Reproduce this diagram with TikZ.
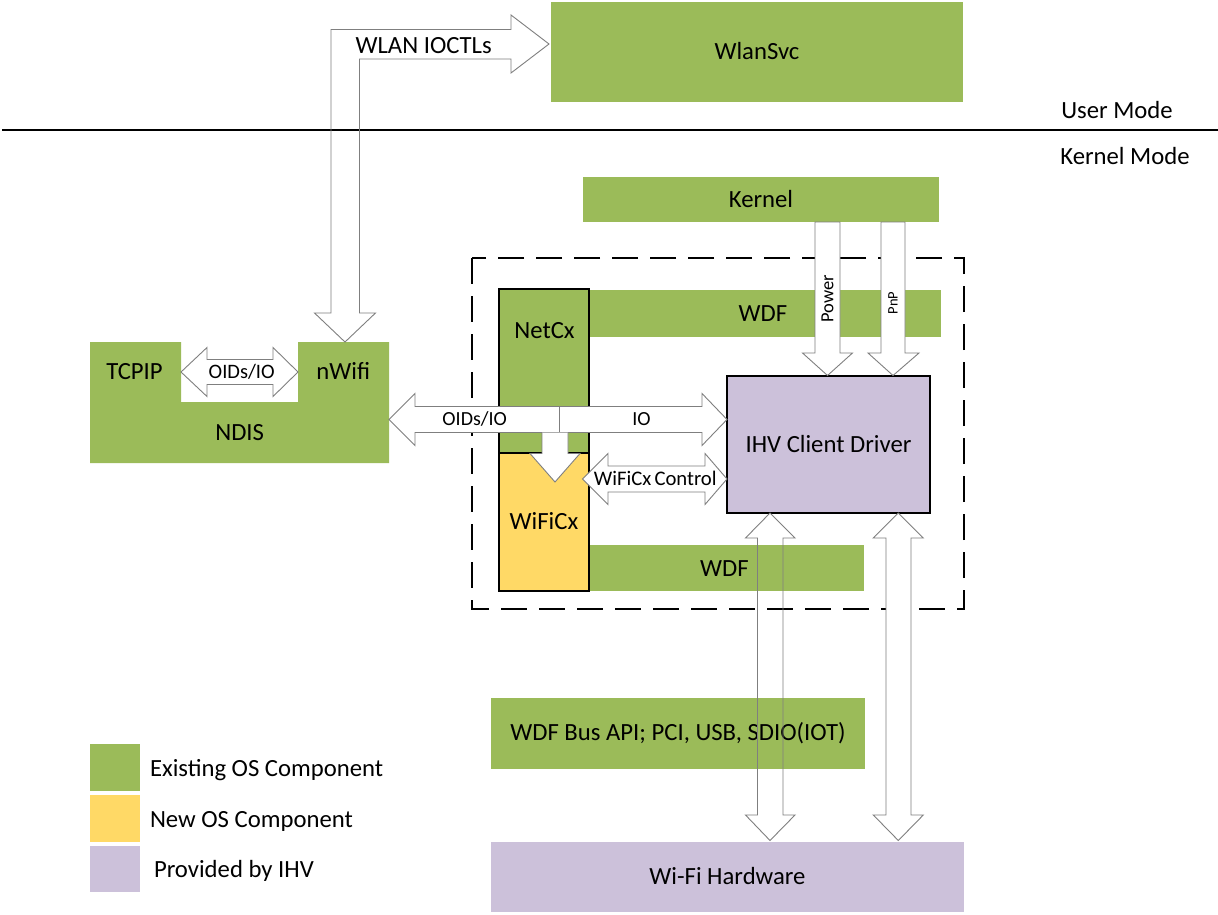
\documentclass[tikz,border=0pt]{standalone}
\usepackage{fontspec}
\setmainfont{Carlito}
\definecolor{osgreen}{HTML}{9BBB59}
\definecolor{osyellow}{HTML}{FFD966}
\definecolor{ihvpurple}{HTML}{CCC1DA}
\definecolor{arrgray}{HTML}{7F7F7F}
\begin{document}
\begin{tikzpicture}[x=1pt,y=-1pt,
  big/.style={font=\fontsize{24.7}{28}\selectfont, text height=15.9pt, text depth=0pt},
  small/.style={font=\fontsize{20}{24}\selectfont, text height=12.9pt, text depth=0pt},
  txt/.style={inner sep=0pt, outer sep=0pt},
  gbox/.style={txt, big, fill=osgreen},
  ybox/.style={txt, big, fill=osyellow, draw=black, line width=2pt},
  pbox/.style={txt, big, fill=ihvpurple},
  nbox/.style={txt, big, fill=osgreen, draw=black, line width=2pt},
  barr/.style={draw=arrgray, line width=0.9pt, line join=miter},
  barrw/.style={barr, fill=white},
  ]
\useasboundingbox (0,0) rectangle (1218,915);
\fill[white] (0,0) rectangle (1218,915);

% user / kernel separation
\coordinate (sepL) at (2,130);
\coordinate (sepR) at (1218,130);
\draw[line width=2pt] (sepL) -- (sepR);
\node[txt, big] (usermode) at (1117,110.5) {User Mode};
\node[txt, big] (kernelmode) at (1125,157) {Kernel Mode};

% green boxes
\node[gbox, minimum width=412pt, minimum height=100pt] (wlansvc) at (757,52) {WlanSvc};
\node[gbox, minimum width=356pt, minimum height=45pt] (kernel) at (761,199.5) {Kernel};
\node[gbox, minimum width=352pt, minimum height=47pt] (wdftop) at (765,313.5) {};
\node[txt, big] (wdftoplbl) at (763,314) {WDF};
\node[gbox, minimum width=275pt, minimum height=46pt] (wdfbot) at (726.5,568) {};
\node[txt, big] (wdfbotlbl) at (724.5,569) {WDF};
\node[gbox, minimum width=374pt, minimum height=71pt] (busapi) at (678,733) {WDF Bus API; PCI, USB, SDIO(IOT)};
\node[pbox, minimum width=473pt, minimum height=70pt] (hw) at (727.5,877) {Wi-Fi Hardware};

% NDIS with notch
\fill[osgreen] (90,342) -- (181,342) -- (181,402) -- (298,402) -- (298,342) -- (389,342) -- (389,463) -- (90,463) -- cycle;
\node[txt, big] (tcpip) at (134.5,372) {TCPIP};
\node[txt, big] (nwifi) at (343.3,372) {nWifi};
\node[txt, big] (ndis) at (239.7,433) {NDIS};

% NetCx / WiFiCx / IHV
\node[nbox, minimum width=90pt, minimum height=164pt] (netcx) at (544,371) {};
\node[txt, big] (netcxlbl) at (544.5,330.5) {NetCx};
\node[ybox, minimum width=90pt, minimum height=138pt] (wificx) at (544,522) {WiFiCx};
\node[pbox, draw=black, line width=2pt, minimum width=203pt, minimum height=137pt] (ihv) at (828.5,444.5) {IHV Client Driver};

% dashed frame
\draw[line width=2.8pt, dash pattern=on 26pt off 12pt] (472,258) rectangle (964,609);

% legend
\node[txt, fill=osgreen, minimum width=50pt, minimum height=47pt] (lg1) at (115,767.5) {};
\node[txt, fill=osyellow, minimum width=50pt, minimum height=47pt] (lg2) at (115,818.5) {};
\node[txt, fill=ihvpurple, minimum width=50pt, minimum height=46pt] (lg3) at (115,869) {};
\node[txt, big, anchor=west] (lt1) at (150,768.3) {Existing OS Component};
\node[txt, big, anchor=west] (lt2) at (150,820) {New OS Component};
\node[txt, big, anchor=west] (lt3) at (154,870) {Provided by IHV};

% WLAN IOCTLs elbow arrow
\draw[barr] (345,342) -- (314.5,313) -- (331,313) -- (331,29.5) -- (511,29.5) -- (511,15) -- (549,44) -- (511,73) -- (511,59) -- (359.5,59) -- (359.5,313) -- (375.5,313) -- cycle;
\node[txt, font=\fontsize{24.7}{28}\selectfont, text height=15.9pt, text depth=0pt] (ioctl) at (423.7,45.3) {WLAN IOCTLs};

% OIDs/IO inside NDIS notch
\draw[barrw] (181,372) -- (207,347.5) -- (207,359.5) -- (273,359.5) -- (273,347.5) -- (298,372) -- (273,396.5) -- (273,384.5) -- (207,384.5) -- (207,396.5) -- cycle;
\node[txt, font=\fontsize{20.5}{24}\selectfont, text height=13.2pt, text depth=0pt] (oidsn) at (241.7,372.3) {OIDs/IO};

% big OIDs/IO - IO arrow
\draw[barrw] (389,419.5) -- (415,393.5) -- (415,406.5) -- (702,406.5) -- (702,393.5) -- (727,419.5) -- (702,445.5) -- (702,432.5) -- (415,432.5) -- (415,445.5) -- cycle;
\draw[barr] (559,406.5) -- (559,432.5);
\node[txt, small] (oids) at (474.7,418.8) {OIDs/IO};
\node[txt, small] (io) at (641.5,419) {IO};

% down arrow into WiFiCx
\draw[barrw] (542,432.5) -- (542,453.5) -- (530,453.5) -- (555,482) -- (580,453.5) -- (568,453.5) -- (568,432.5);

% WiFiCx Control
\draw[barrw] (582.5,479) -- (608,453.5) -- (608,466) -- (705,466) -- (705,453.5) -- (727,479) -- (705,504.5) -- (705,492) -- (608,492) -- (608,504.5) -- cycle;
\node[txt, font=\fontsize{20.7}{24}\selectfont, text height=13.3pt, text depth=0pt] (wcc) at (655.3,478.8) {WiFiCx\hspace{-1.5pt} Control};

% Power and PnP
\draw[barrw] (815,222) -- (815,353) -- (802.5,353) -- (827.5,375.5) -- (852.5,353) -- (840,353) -- (840,222) -- cycle;
\draw[barrw] (881,222) -- (881,353) -- (868,353) -- (893,375.5) -- (919,353) -- (905,353) -- (905,222) -- cycle;
\node[txt, rotate=90, font=\fontsize{18.5}{20}\selectfont, text height=11.9pt, text depth=0pt] (power) at (827.5,298.5) {Power};
\node[txt, rotate=90, font=\fontsize{14.5}{16}\selectfont, text height=9.3pt, text depth=0pt] (pnp) at (893,303) {PnP};

% bottom double arrows
\draw[barr] (770,513) -- (795,538) -- (783,538) -- (783,815) -- (795,815) -- (770,840.5) -- (745.5,815) -- (757.5,815) -- (757.5,538) -- (745.5,538) -- cycle;
\draw[barrw] (898.3,513) -- (923.3,538) -- (911,538) -- (911,815) -- (923.3,815) -- (898.3,840.5) -- (873.3,815) -- (886,815) -- (886,538) -- (873.3,538) -- cycle;
\end{tikzpicture}
\end{document}
